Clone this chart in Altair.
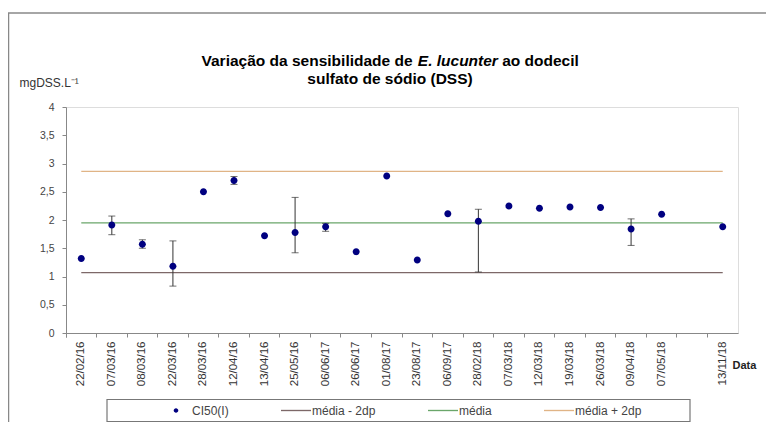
import altair as alt
import pandas as pd

dates = ["22/02/16", "07/03/16", "08/03/16", "22/03/16", "28/03/16", "12/04/16",
         "13/04/16", "25/05/16", "06/06/17", "26/06/17", "01/08/17", "23/08/17",
         "06/09/17", "28/02/18", "07/03/18", "12/03/18", "19/03/18", "26/03/18",
         "09/04/18", "07/05/18", " ", "13/11/18"]
ci50 = [1.32, 1.91, 1.57, 1.18, 2.50, 2.70, 1.72, 1.78, 1.88, 1.44, 2.78, 1.29,
        2.11, 1.98, 2.25, 2.21, 2.23, 2.22, 1.84, 2.10, None, 1.88]
err_low = [None, 1.74, 1.50, 0.83, None, 2.63, None, 1.42, 1.80, None, None, None,
           None, 1.08, None, None, None, None, 1.55, None, None, None]
err_high = [None, 2.07, 1.65, 1.63, None, 2.77, None, 2.40, 1.94, None, None, None,
            None, 2.19, None, None, None, None, 2.02, None, None, None]
series = ["CI50(I)", "média - 2dp", "média", "média + 2dp"]
ref_values = [1.07, 1.95, 2.86]
colors = ["#000080", "#7d6868", "#6aa66a", "#e0b486"]
y_ticks = [0, 0.5, 1, 1.5, 2, 2.5, 3, 3.5, 4]
title_parts = ["Variação da sensibilidade de", "E. lucunter", "ao dodecil"]
title_line2 = "sulfato de sódio (DSS)"

FONT = "Liberation Sans"
DOT = "M -0.15 0 A 0.15 0.15 0 1 0 0.15 0 A 0.15 0.15 0 1 0 -0.15 0 Z"
BAR = "M -1 -0.045 L 1 -0.045 L 1 0.045 L -1 0.045 Z"

pts = pd.DataFrame({"data": dates, "valor": ci50}).dropna()
pts["serie"] = series[0]
errs = pd.DataFrame({"data": dates, "lo": err_low, "hi": err_high}).dropna()
lines = pd.DataFrame([{"data": d, "valor": v, "serie": s}
                      for s, v in zip(series[1:], ref_values) for d in dates])

xscale = alt.Scale(type="band", domain=dates, paddingInner=0, paddingOuter=0)
yscale = alt.Scale(domain=[0, 4], nice=False)
yaxis = alt.Axis(values=y_ticks, labelExpr="replace(format(datum.value, '.1~f'), '.', ',')",
                 grid=False, domainColor="#888", tickColor="#888", tickSize=4,
                 labelFont=FONT, labelFontSize=10.5, labelColor="#444", labelPadding=8,
                 title="mgDSS.L⁻¹", titleAngle=0, titleAlign="left", titleBaseline="middle",
                 titleX=-47, titleY=-25, titleFont=FONT, titleFontSize=12,
                 titleFontWeight="normal", titleColor="#333")

legend = alt.Legend(title=None, orient="none", legendX=95, legendY=288.5,
                    direction="horizontal", symbolSize=900, symbolStrokeWidth=0,
                    labelFont=FONT, labelFontSize=12, labelColor="#444",
                    labelOffset=1, columnPadding=52, padding=0)
color_enc = alt.Color("serie:N", scale=alt.Scale(domain=series, range=colors), legend=legend)
shape_enc = alt.Shape("serie:N", scale=alt.Scale(domain=series, range=[DOT, BAR, BAR, BAR]),
                      legend=legend)

line_layer = alt.Chart(lines).mark_line(strokeWidth=1.3).encode(
    x=alt.X("data:N", scale=xscale, sort=None,
            axis=alt.Axis(orient="bottom", labels=False, bandPosition=0, tickExtra=True,
                          domainColor="#888", tickColor="#888", tickSize=4, title=None)),
    y=alt.Y("valor:Q", scale=yscale, axis=yaxis),
    color=color_enc,
    detail="serie:N",
)

rule_layer = alt.Chart(errs).mark_rule(color="#333", strokeWidth=1).encode(
    x=alt.X("data:N", scale=xscale, sort=None, axis=None),
    y=alt.Y("lo:Q", scale=yscale, axis=yaxis),
    y2="hi:Q",
)
cap_lo = alt.Chart(errs).mark_tick(color="#333", size=7, thickness=1).encode(
    x=alt.X("data:N", scale=xscale, sort=None, axis=None),
    y=alt.Y("lo:Q", scale=yscale, axis=yaxis),
)
cap_hi = alt.Chart(errs).mark_tick(color="#333", size=7, thickness=1).encode(
    x=alt.X("data:N", scale=xscale, sort=None, axis=None),
    y=alt.Y("hi:Q", scale=yscale, axis=yaxis),
)

point_layer = alt.Chart(pts).mark_point(filled=True, opacity=1, size=2178, strokeWidth=0).encode(
    x=alt.X("data:N", scale=xscale, sort=None,
            axis=alt.Axis(orient="bottom", ticks=False, domain=False, labelAngle=270,
                          labelAlign="right", labelBaseline="middle", labelPadding=8,
                          labelFont=FONT, labelFontSize=11.5, labelColor="#333",
                          title="Data", titleAngle=0, titleAlign="left",
                          titleBaseline="middle", titleX=666, titleY=32,
                          titleFont=FONT, titleFontSize=11, titleFontWeight="bold",
                          titleColor="#222")),
    y=alt.Y("valor:Q", scale=yscale, axis=yaxis),
    color=color_enc,
    shape=shape_enc,
)

deco = pd.DataFrame({"k": [0]})
legend_box = alt.Chart(deco).mark_rect(fill="white", stroke="#777", strokeWidth=1.2).encode(
    x=alt.value(41), x2=alt.value(624), y=alt.value(292.5), y2=alt.value(314.5))
border_top = alt.Chart(deco).mark_rule(color="#888", strokeWidth=1.5).encode(
    x=alt.value(-58), x2=alt.value(702), y=alt.value(-94))
border_left = alt.Chart(deco).mark_rule(color="#888", strokeWidth=1.5).encode(
    x=alt.value(-57.5), y=alt.value(-94), y2=alt.value(315))

TS = 15.5
tstyle = dict(font=FONT, fontSize=TS, fontWeight="bold", color="black",
              baseline="alphabetic")
t1 = alt.Chart(deco).mark_text(text=title_parts[0], align="left", **tstyle).encode(
    x=alt.value(135.5), y=alt.value(-41))
t2 = alt.Chart(deco).mark_text(text=title_parts[1], align="left", fontStyle="italic",
                               **tstyle).encode(x=alt.value(351.8), y=alt.value(-41))
t3 = alt.Chart(deco).mark_text(text=title_parts[2], align="left", **tstyle).encode(
    x=alt.value(436.2), y=alt.value(-41))
t4 = alt.Chart(deco).mark_text(text=title_line2, align="center", **tstyle).encode(
    x=alt.value(324), y=alt.value(-23))

chart = alt.layer(
    border_top, border_left, legend_box, t1, t2, t3, t4,
    line_layer, rule_layer, cap_lo, cap_hi, point_layer,
).resolve_axis(x="independent").properties(
    width=672, height=226,
    autosize=alt.AutoSizeParams(type="none"),
    padding={"left": 58, "top": 99, "right": 28, "bottom": 89},
).configure_view(stroke=None).configure(background="white")

chart.save("out.html", embed_options={"renderer": "svg", "actions": False})
